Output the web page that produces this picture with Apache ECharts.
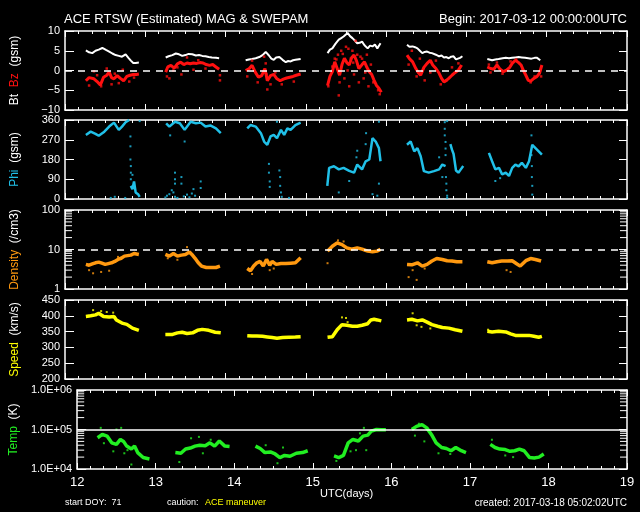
<!DOCTYPE html>
<html><head><meta charset="utf-8">
<script src="https://cdn.jsdelivr.net/npm/echarts@6/dist/echarts.min.js"></script>
<style>html,body{margin:0;padding:0;background:#000}#c{width:640px;height:512px}</style>
</head><body><div id="c"></div>
<script>
// ---------- DATA (x = UTC day of March 2017) ----------
const xMin = 12, xMax = 19;
const bzTicks = [-10, -5, 0, 5, 10];
const phiTicks = [0, 90, 180, 270, 360];
const speedTicks = [200, 250, 300, 350, 400, 450];
const densMinor = [2,3,4,5,6,7,8,9,20,30,40,50,60,70,80,90];
const tempMinor = [2e4,3e4,4e4,5e4,6e4,7e4,8e4,9e4,2e5,3e5,4e5,5e5,6e5,7e5,8e5,9e5];

const btSegs = [
 [[12.26,5.1],[12.30,4.6],[12.34,4.4],[12.38,5.0],[12.42,5.3],[12.465,5.7],[12.51,5.2],[12.55,4.8],[12.59,4.3],[12.63,3.9],[12.67,3.7],[12.71,3.5],[12.755,4.1],[12.79,3.2],[12.82,2.5],[12.85,1.9],[12.88,1.9],[12.92,2.0]],
 [[13.254,3.3],[13.29,3.6],[13.337,3.9],[13.38,4.3],[13.42,4.1],[13.46,3.7],[13.50,3.9],[13.54,4.2],[13.585,4.1],[13.63,3.8],[13.67,3.9],[13.71,3.7],[13.75,3.6],[13.79,3.4],[13.83,3.3],[13.88,3.2],[13.92,3.1]],
 [[14.25,2.6],[14.29,2.8],[14.33,2.9],[14.375,3.1],[14.42,3.4],[14.46,3.9],[14.50,4.7],[14.54,3.8],[14.57,3.0],[14.60,2.7],[14.63,3.3],[14.67,3.4],[14.71,2.7],[14.75,2.1],[14.78,2.4],[14.81,2.3],[14.84,2.6],[14.87,2.7],[14.935,2.9]],
 [[15.27,4.4],[15.30,5.3],[15.33,5.6],[15.37,6.8],[15.41,7.8],[15.44,8.2],[15.47,8.6],[15.52,9.5],[15.55,8.7],[15.58,8.2],[15.61,7.6],[15.64,6.9],[15.67,7.0],[15.70,7.3],[15.73,6.4],[15.77,5.6],[15.80,6.3],[15.83,6.1],[15.86,6.6],[15.89,5.6],[15.93,6.9]],
 [[16.26,6.5],[16.29,6.0],[16.33,6.1],[16.36,5.9],[16.39,5.6],[16.42,5.0],[16.45,4.4],[16.48,4.7],[16.51,4.8],[16.54,4.5],[16.57,4.4],[16.62,4.0],[16.66,3.6],[16.69,3.8],[16.72,3.3],[16.75,3.4],[16.78,3.1],[16.81,3.5],[16.84,3.6],[16.87,2.8],[16.89,2.3],[16.92,3.2],[16.95,3.6]],
 [[17.26,2.9],[17.32,2.6],[17.36,2.8],[17.40,2.9],[17.45,3.1],[17.49,3.2],[17.53,3.1],[17.57,3.2],[17.61,3.3],[17.65,3.4],[17.69,3.3],[17.73,3.2],[17.77,3.1],[17.81,3.0],[17.85,3.2],[17.88,3.2],[17.92,2.6]]
];
const bzSegs = [
 [[12.26,-2.6],[12.30,-1.8],[12.32,-1.3],[12.36,-2.1],[12.40,-2.8],[12.44,-3.7],[12.48,-1.7],[12.52,-1.2],[12.55,-0.4],[12.58,-1.8],[12.61,-2.1],[12.65,-1.3],[12.69,-2.0],[12.73,-2.6],[12.77,-1.5],[12.81,-1.2],[12.85,-1.0],[12.89,-1.0],[12.92,-0.9]],
 [[13.254,-0.4],[13.28,0.9],[13.32,1.3],[13.36,0.6],[13.40,1.7],[13.44,2.1],[13.48,1.5],[13.52,1.9],[13.56,1.7],[13.60,1.9],[13.64,1.8],[13.68,2.0],[13.72,1.9],[13.76,1.5],[13.80,1.3],[13.84,1.5],[13.88,0.9],[13.92,0.3]],
 [[14.25,0.0],[14.29,0.4],[14.33,1.3],[14.37,-0.4],[14.41,-1.7],[14.45,-1.3],[14.49,0.5],[14.52,-2.6],[14.56,-1.3],[14.60,-1.0],[14.64,-2.1],[14.68,-2.6],[14.72,-2.2],[14.76,-1.9],[14.80,-1.7],[14.84,-1.5],[14.88,-1.2],[14.935,-0.9]],
 [[15.27,-3.8],[15.30,-1.5],[15.33,-0.3],[15.36,2.2],[15.39,0.5],[15.42,-1.2],[15.45,1.5],[15.48,3.1],[15.51,2.0],[15.54,1.4],[15.57,3.2],[15.60,3.9],[15.63,2.5],[15.66,0.5],[15.70,1.5],[15.73,2.2],[15.76,0.8],[15.79,-0.3],[15.82,-1.0],[15.85,-2.5],[15.88,-3.8],[15.91,-4.5],[15.94,-5.5]],
 [[16.26,3.9],[16.29,3.0],[16.33,2.2],[16.37,0.5],[16.40,-0.5],[16.43,-1.2],[16.47,0.8],[16.51,1.8],[16.55,2.6],[16.58,1.4],[16.62,0.5],[16.66,-0.7],[16.69,-2.0],[16.72,-2.9],[16.75,-2.5],[16.78,-2.0],[16.82,-1.2],[16.86,-0.5],[16.90,0.1],[16.94,1.4]],
 [[17.26,0.9],[17.30,0.5],[17.34,0.3],[17.38,1.4],[17.42,0.3],[17.46,-0.3],[17.50,0.1],[17.54,0.8],[17.57,1.8],[17.61,2.6],[17.65,2.0],[17.68,1.4],[17.71,0.0],[17.74,-1.2],[17.77,-2.5],[17.80,-2.7],[17.84,-2.0],[17.88,-1.5],[17.91,-0.7],[17.94,1.4]]
];
const bzDots = [[12.30,-3.8],[12.36,-0.2],[12.45,-4.0],[12.52,0.5],[12.58,-3.5],[12.67,-3.2],[12.72,0.2],[12.80,-2.8],[12.40,-1.2],[12.62,-0.8],[12.86,-1.8],
 [13.27,-1.5],[13.30,-2.0],[13.35,0.0],[13.45,-1.0],[13.52,3.3],[13.60,0.2],[13.75,0.5],[13.93,-2.5],[13.93,-1.2],[13.40,0.8],[13.66,2.6],
 [14.27,-1.5],[14.33,2.5],[14.40,-3.0],[14.48,3.5],[14.52,-4.8],[14.56,-3.5],[14.62,-0.5],[14.70,-3.5],[14.85,-2.8],[14.50,1.8],[14.51,-1.0],
 [15.28,-4.0],[15.33,1.0],[15.36,3.0],[15.40,4.0],[15.41,-6.3],[15.42,-3.0],[15.44,5.0],[15.48,-2.0],[15.50,6.0],[15.52,0.0],[15.54,-4.0],[15.56,3.0],[15.58,5.0],[15.60,-1.0],[15.62,7.5],[15.64,4.0],[15.66,-3.0],[15.70,3.0],[15.72,-2.0],[15.76,4.0],[15.78,-4.0],[15.84,-3.0],[15.90,-5.0],[15.92,-6.0],
 [15.38,2.8],[15.46,4.2],[15.53,5.5],[15.59,2.0],[15.68,3.5],[15.74,-0.5],[15.81,1.5],
 [16.28,1.5],[16.32,5.0],[16.38,-1.5],[16.42,3.0],[16.48,-2.5],[16.55,-0.5],[16.62,2.5],[16.68,-3.5],[16.75,-2.5],[16.82,0.8],[16.90,1.8],
 [17.28,1.5],[17.30,-0.5],[17.38,2.0],[17.45,-0.8],[17.55,2.3],[17.62,2.8],[17.70,0.2],[17.80,-3.0],[17.85,-1.5],[17.93,-1.5]];

const phiSegs = [
 [[12.26,292],[12.32,307],[12.38,297],[12.42,288],[12.49,307],[12.55,330],[12.61,348],[12.67,315],[12.71,330],[12.755,350],[12.80,360]],
 [[12.82,60],[12.84,45],[12.86,80],[12.88,30],[12.91,22],[12.93,10]],
 [[13.26,345],[13.30,330],[13.37,352],[13.43,345],[13.49,315],[13.565,352],[13.63,345],[13.69,348],[13.75,330],[13.81,335],[13.88,322],[13.94,300]],
 [[14.27,322],[14.31,337],[14.375,330],[14.44,300],[14.48,262],[14.52,247],[14.56,285],[14.60,292],[14.64,277],[14.69,315],[14.73,292],[14.77,322],[14.81,315],[14.87,337],[14.935,348]],
 [[15.267,60],[15.29,142],[15.35,149],[15.41,135],[15.47,142],[15.54,128],[15.60,120],[15.64,157],[15.70,135],[15.745,172],[15.79,180],[15.83,277],[15.87,262],[15.91,232],[15.93,172]],
 [[16.26,247],[16.305,262],[16.35,217],[16.39,232],[16.43,195],[16.47,127],[16.53,120],[16.595,127],[16.66,135],[16.70,157],[16.74,150]],
 [[16.80,250],[16.82,225],[16.84,205],[16.87,130],[16.90,120],[16.93,135],[16.96,150]],
 [[17.28,210],[17.32,172],[17.36,135],[17.405,142],[17.445,112],[17.49,120],[17.53,105],[17.57,142],[17.61,157],[17.65,149],[17.69,165],[17.74,142],[17.78,172],[17.82,247],[17.86,232],[17.90,217],[17.94,202]]
];
const phiDots = [[12.57,5],[12.62,10],[12.75,5],[12.815,285],[12.815,240],[12.815,180],[12.82,150],[12.82,120],[12.82,90],[12.84,110],[12.93,355],
 [13.25,7],[13.27,15],[13.30,22],[13.33,40],[13.35,30],[13.37,10],[13.37,120],[13.37,90],[13.37,70],[13.40,5],[13.45,100],[13.45,70],[13.48,12],[13.52,20],[13.55,8],[13.58,25],[13.60,45],[13.62,15],[13.69,80],[13.69,50],[13.31,290],[13.49,262],
 [14.54,160],[14.54,120],[14.55,80],[14.55,55],[14.67,130],[14.68,100],[14.68,60],[14.69,30],[14.70,10],[14.79,5],[14.64,352],
 [15.41,30],[15.54,82],[15.63,190],[15.64,220],[15.745,250],[15.75,300],[15.83,22],[15.89,15],[15.91,352],[15.91,70],
 [16.73,350],[16.73,320],[16.73,290],[16.74,260],[16.74,230],[16.74,200],[16.745,100],[16.75,70],[16.75,40],[16.76,15],[16.76,5],[16.76,355],[16.66,190],[16.70,100],
 [17.36,82],[17.42,95],[17.81,290],[17.81,200],[17.815,150],[17.815,100],[17.82,60],[17.82,20]];

const densSegs = [
 [[12.26,4.2],[12.30,4.0],[12.34,4.3],[12.38,4.6],[12.42,4.8],[12.46,4.5],[12.50,4.2],[12.54,4.4],[12.58,4.6],[12.62,5.0],[12.66,5.6],[12.70,6.0],[12.74,6.8],[12.78,7.0],[12.82,7.2],[12.86,7.9],[12.92,7.5]],
 [[13.25,7.5],[13.30,6.8],[13.35,7.9],[13.40,6.8],[13.45,7.2],[13.50,7.5],[13.55,8.6],[13.58,7.5],[13.62,6.0],[13.66,4.6],[13.70,3.8],[13.76,3.5],[13.82,3.5],[13.88,3.5],[13.93,3.8]],
 [[14.27,3.3],[14.31,2.9],[14.35,3.8],[14.39,4.6],[14.43,5.0],[14.47,3.8],[14.51,5.6],[14.55,4.0],[14.58,5.0],[14.63,4.2],[14.69,4.4],[14.75,4.4],[14.81,4.5],[14.87,4.6],[14.935,6.2]],
 [[15.27,9.1],[15.33,12.1],[15.39,14.7],[15.45,13.3],[15.51,11.0],[15.57,10.2],[15.64,11.0],[15.70,10.2],[15.77,9.1],[15.83,8.8],[15.89,9.1],[15.93,10.2]],
 [[16.26,4.2],[16.32,4.1],[16.39,4.6],[16.45,3.8],[16.51,4.2],[16.57,5.1],[16.63,5.9],[16.70,5.6],[16.76,5.2],[16.82,5.1],[16.88,4.9],[16.95,4.9]],
 [[17.26,4.9],[17.32,4.6],[17.38,4.9],[17.44,5.1],[17.51,5.1],[17.57,5.2],[17.63,4.3],[17.67,3.8],[17.74,5.2],[17.80,5.9],[17.86,5.6],[17.93,5.1]]
];
const densDots = [[12.30,3.0],[12.35,2.5],[12.45,2.7],[12.55,2.9],[12.66,6.5],[13.28,6.0],[13.40,5.5],[13.52,11.5],[14.33,2.4],[14.55,3.0],[14.60,3.3],[15.27,4.5],[15.40,17],[15.47,16],[16.28,2.0],[16.33,3.0],[16.38,1.7],[16.48,3.3],[17.50,3.0],[17.55,2.7]];

const speedSegs = [
 [[12.26,398],[12.32,400],[12.38,403],[12.42,408],[12.48,398],[12.55,396],[12.61,398],[12.64,387],[12.71,377],[12.77,373],[12.84,361],[12.92,354]],
 [[13.25,341],[13.34,341],[13.40,346],[13.46,348],[13.52,344],[13.59,346],[13.65,354],[13.71,357],[13.79,354],[13.87,348],[13.94,346]],
 [[14.27,337],[14.33,336],[14.39,336],[14.46,335],[14.52,333],[14.58,331],[14.64,329],[14.71,331],[14.79,332],[14.87,333],[14.935,334]],
 [[15.27,332],[15.33,334],[15.39,356],[15.45,372],[15.51,370],[15.58,367],[15.64,367],[15.70,370],[15.77,375],[15.81,387],[15.85,389],[15.89,387],[15.94,384]],
 [[16.26,387],[16.32,389],[16.39,384],[16.45,387],[16.51,380],[16.57,372],[16.64,367],[16.70,363],[16.78,361],[16.86,356],[16.95,351]],
 [[17.26,351],[17.32,349],[17.40,351],[17.49,349],[17.55,343],[17.61,338],[17.69,338],[17.78,338],[17.84,335],[17.90,332],[17.94,335]]
];
const speedDots = [[12.35,418],[12.45,415],[12.52,412],[12.60,410],[15.45,395],[15.50,393],[15.52,380],[16.33,408],[16.38,370],[16.44,365],[16.55,360],[17.27,356]];

const tempSegs = [
 [[12.26,6.2e4],[12.32,7.5e4],[12.38,6.8e4],[12.44,4.6e4],[12.50,4.2e4],[12.55,5.6e4],[12.59,5.0e4],[12.63,3.8e4],[12.69,3.2e4],[12.73,3.8e4],[12.77,2.6e4],[12.84,1.95e4],[12.92,1.8e4]],
 [[13.25,2.6e4],[13.32,2.5e4],[13.38,3.2e4],[13.44,3.4e4],[13.50,3.8e4],[13.56,4.0e4],[13.63,3.9e4],[13.69,4.6e4],[13.75,3.8e4],[13.81,5.1e4],[13.88,3.8e4],[13.94,3.7e4]],
 [[14.27,3.8e4],[14.33,3.3e4],[14.39,2.6e4],[14.46,2.7e4],[14.52,2.4e4],[14.58,1.95e4],[14.64,2.2e4],[14.71,2.1e4],[14.79,2.5e4],[14.87,2.6e4],[14.935,2.9e4]],
 [[15.27,2.15e4],[15.33,1.95e4],[15.39,2.2e4],[15.45,4.6e4],[15.51,5.6e4],[15.58,5.1e4],[15.64,6.8e4],[15.70,7.2e4],[15.745,9.1e4],[15.81,1.0e5],[15.87,9.8e4],[15.93,9.8e4]],
 [[16.26,1.0e5],[16.32,1.2e5],[16.39,1.33e5],[16.45,1.1e5],[16.51,7.5e4],[16.57,4.6e4],[16.64,3.5e4],[16.70,3.3e4],[16.76,2.9e4],[16.82,3.5e4],[16.89,2.9e4],[16.95,2.6e4]],
 [[17.26,4.2e4],[17.32,3.5e4],[17.38,3.2e4],[17.45,3.1e4],[17.51,2.8e4],[17.57,2.9e4],[17.63,3.2e4],[17.69,2.9e4],[17.76,1.95e4],[17.82,1.9e4],[17.88,2.0e4],[17.94,2.4e4]]
];
const tempDots = [[12.30,1.1e5],[12.34,4.5e4],[12.46,2.8e4],[12.50,1.0e5],[12.56,1.1e5],[12.60,2.5e4],[12.64,3.0e4],[12.69,1.3e4],[13.30,1.5e4],[13.45,6.0e4],[13.55,6.5e4],[13.60,2.5e4],[13.70,5.5e4],[14.40,4.0e4],[14.55,1.4e4],[14.62,3.5e4],[15.30,1.6e4],[15.48,2.8e4],[15.55,3.0e4],[15.60,8.0e4],[15.65,1.1e5],[15.68,3.0e4],[16.30,7.0e4],[16.35,1.4e5],[16.42,5.0e4],[16.60,2.5e4],[16.75,2.4e4],[17.28,5.5e4],[17.45,2.2e4],[17.55,2.0e4]];

// ---------- CHART ----------
const FONT = 'Liberation Sans';
const C = {bt:'#ffffff', bz:'#ff1010', phi:'#20c0e8', dens:'#ff9910', speed:'#ffff00', temp:'#22ee22'};
function joinSegs(segs){ const out=[]; segs.forEach((s,i)=>{ if(i) out.push([s[0][0],'-']); s.forEach(p=>out.push(p)); }); return out; }

const tops = [31,120,210,300,390];
const grids = tops.map(t=>({left:65, width:562, top:t, height:79, containLabel:false}));

const xAxes = [];
tops.forEach((t,i)=>{
  ['bottom','top'].forEach(pos=>{
    const lab = (i===4 && pos==='bottom');
    xAxes.push({type:'value', gridIndex:i, position:pos, min:xMin, max:xMax, interval:1,
      axisLine:{show:true, onZero:false, lineStyle:{color:'#fff', width:1.5}},
      axisTick:{show:true, inside:true, length:6, lineStyle:{color:'#fff'}},
      minorTick:{show:true, splitNumber:6, length:3, lineStyle:{color:'#fff'}},
      splitLine:{show:false}, minorSplitLine:{show:false},
      axisLabel:{show:lab, color:'#fff', fontSize:13, fontFamily:FONT, margin:7}});
  });
});

const yDefs = [
  {type:'value', min:-10, max:10, interval:5, fmt:v=>String(v).replace('-','\u2212'),
   name:'{w|Bt}  {r|Bz}  {w|(gsm)}', rich:{w:{color:C.bt}, r:{color:C.bz}}},
  {type:'value', min:0, max:360, interval:90, fmt:v=>String(v),
   name:'{c|Phi}  {w|(gsm)}', rich:{w:{color:'#fff'}, c:{color:C.phi}}},
  {type:'log', min:1, max:100, fmt:v=>String(Math.round(v)),
   name:'{c|Density}  {w|(/cm3)}', rich:{w:{color:'#fff'}, c:{color:C.dens}}},
  {type:'value', min:200, max:450, interval:50, fmt:v=>String(v),
   name:'{c|Speed}  {w|(km/s)}', rich:{w:{color:'#fff'}, c:{color:C.speed}}},
  {type:'log', min:1e4, max:1e6, fmt:v=>'1.0E+'+String(Math.round(Math.log10(v))).padStart(2,'0'),
   name:'{c|Temp}  {w|(K)}', rich:{w:{color:'#fff'}, c:{color:C.temp}}}
];
const yAxes = [];
yDefs.forEach((d,i)=>{
  const base = {type:d.type, gridIndex:i, min:d.min, max:d.max, splitLine:{show:false},
    axisLine:{show:true, onZero:false, lineStyle:{color:'#fff', width:1.5}},
    axisTick:{show:true, inside:true, length:9, lineStyle:{color:'#fff'}}};
  if (d.type==='log') base.logBase = 10; else base.interval = d.interval;
  yAxes.push(Object.assign({}, base, {position:'left',
    axisLabel:{show:true, color:'#fff', fontSize:11, fontFamily:FONT, margin:5, formatter:d.fmt},
    name:d.name, nameLocation:'middle', nameRotate:90, nameGap:44,
    nameTextStyle:{fontSize:12, fontFamily:FONT, rich:Object.fromEntries(Object.entries(d.rich).map(([k,v])=>[k,Object.assign({fontSize:12,fontFamily:FONT},v)]))}}));
  yAxes.push(Object.assign({}, base, {position:'right', axisLabel:{show:false}, axisTick:{show:true, inside:true, length:8, lineStyle:{color:'#fff'}}}));
});

function lineS(i, data, color, w, extra){
  return Object.assign({type:'line', xAxisIndex:2*i, yAxisIndex:2*i, data:data, showSymbol:false, symbol:'none',
    connectNulls:false, lineStyle:{color:color, width:w}, itemStyle:{color:color}, silent:true, z:3}, extra||{});
}
function dotS(i, data, color, size){
  return {type:'scatter', xAxisIndex:2*i, yAxisIndex:2*i, data:data, symbol:'rect', symbolSize:size||2,
    itemStyle:{color:color}, silent:true, z:3};
}
function refLine(val, dashed){
  return {silent:true, symbol:'none', label:{show:false},
    lineStyle:{color:'#fff', width:1.5, type: dashed ? [7,6] : 'solid'}, data:[{yAxis:val}]};
}
function logMinor(i, vals){
  return {type:'custom', xAxisIndex:2*i, yAxisIndex:2*i, silent:true, z:5, clip:false,
    data: vals.map(v=>[xMin, v]), encode:{x:0, y:1},
    renderItem:(p, api)=>{
      const v = api.value(1);
      const l = api.coord([xMin, v]), r = api.coord([xMax, v]);
      return {type:'group', children:[
        {type:'line', shape:{x1:l[0], y1:l[1], x2:l[0]+7, y2:l[1]}, style:{stroke:'#fff', lineWidth:1}},
        {type:'line', shape:{x1:r[0]-7, y1:r[1], x2:r[0], y2:r[1]}, style:{stroke:'#fff', lineWidth:1}}
      ]};
    }};
}

const series = [
  lineS(0, joinSegs(btSegs), C.bt, 2, {markLine: refLine(0, true), z:2}),
  lineS(0, joinSegs(bzSegs), C.bz, 3),
  dotS(0, bzDots, C.bz, 2.5),
  lineS(1, joinSegs(phiSegs), C.phi, 2.5),
  dotS(1, phiDots, C.phi, 2),
  lineS(2, joinSegs(densSegs), C.dens, 3.5, {markLine: refLine(10, true)}),
  dotS(2, densDots, C.dens, 2),
  logMinor(2, densMinor),
  lineS(3, joinSegs(speedSegs), C.speed, 3.5),
  dotS(3, speedDots, C.speed, 2),
  lineS(4, joinSegs(tempSegs), C.temp, 3.5, {markLine: refLine(1e5, false)}),
  dotS(4, tempDots, C.temp, 2),
  logMinor(4, tempMinor)
];

const graphic = [
  {type:'text', left:64, top:13, style:{text:'ACE RTSW (Estimated) MAG & SWEPAM', fill:'#fff', font:'13px '+FONT}},
  {type:'text', right:13, top:13, style:{text:'Begin: 2017-03-12 00:00:00UTC', fill:'#fff', font:'13px '+FONT}},
  {type:'text', left:320, top:488, style:{text:'UTC(days)', fill:'#fff', font:'11px '+FONT}},
  {type:'text', left:65, top:498, style:{text:'start DOY:  71', fill:'#fff', font:'9px '+FONT}},
  {type:'text', left:167, top:498, style:{text:'caution:', fill:'#fff', font:'9px '+FONT}},
  {type:'text', left:205, top:498, style:{text:'ACE maneuver', fill:'#ffff00', font:'9px '+FONT}},
  {type:'text', right:13, top:498, style:{text:'created: 2017-03-18 05:02:02UTC', fill:'#fff', font:'10px '+FONT}}
];

const chart = echarts.init(document.getElementById('c'), null, {renderer:'canvas'});
chart.setOption({backgroundColor:'#000', animation:false, grid:grids, xAxis:xAxes, yAxis:yAxes, series:series, graphic:graphic});
</script></body></html>
